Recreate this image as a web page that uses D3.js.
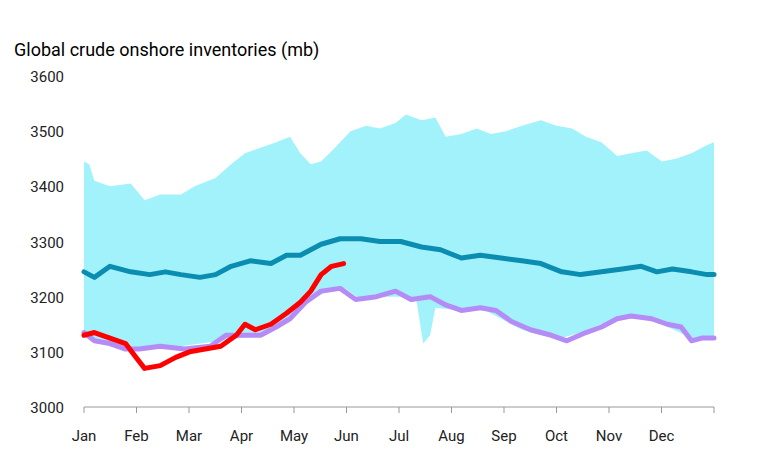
<!DOCTYPE html>
<html><head><meta charset="utf-8">
<script src="https://cdn.jsdelivr.net/npm/d3@7"></script>
<style>body{margin:0;background:#fff;font-family:Roboto,"Noto Sans",sans-serif}</style>
</head><body><svg id="c" width="767" height="452"></svg>
<script>
// months and ticks
var months = ["Jan","Feb","Mar","Apr","May","Jun","Jul","Aug","Sep","Oct","Nov","Dec"];
var yTicks = [3000,3100,3200,3300,3400,3500,3600];

// range band (day of year, value)
var upperDays = [0,3,6,15,27,35,44,56,64,76,85,93,102,111,119,125,131,137,145,154,163,171,180,186,195,203,209,218,227,235,244,253,264,273,282,290,299,308,316,325,334,342,351,360,364];
var upperVals = [3445,3440,3410,3400,3405,3375,3385,3385,3400,3415,3440,3460,3470,3480,3490,3460,3440,3445,3470,3500,3510,3505,3515,3530,3520,3525,3490,3495,3505,3495,3500,3510,3520,3510,3505,3490,3480,3455,3460,3465,3445,3450,3460,3475,3480];
var lowerDays = [0,15,32,56,79,102,119,131,143,151,160,171,183,192,196,200,203,218,229,241,253,264,276,287,299,311,322,334,351,364];
var lowerVals = [3130,3110,3105,3110,3120,3130,3160,3200,3210,3215,3195,3200,3200,3195,3115,3130,3180,3175,3180,3160,3140,3130,3125,3135,3150,3160,3160,3150,3125,3125];

// 5-year average
var avgDays = [0,6,15,27,38,47,56,67,76,85,96,108,117,125,137,148,160,171,183,195,206,218,229,241,253,264,276,287,299,311,322,331,340,351,360,364];
var avgVals = [3245,3235,3255,3245,3240,3245,3240,3235,3240,3255,3265,3260,3275,3275,3295,3305,3305,3300,3300,3290,3285,3270,3275,3270,3265,3260,3245,3240,3245,3250,3255,3245,3250,3245,3240,3240];

// previous year
var prevDays = [0,6,15,24,32,44,58,73,82,90,102,111,119,128,137,148,157,169,180,189,200,209,218,229,238,247,258,270,279,290,299,308,316,328,337,345,351,357,364];
var prevVals = [3135,3120,3115,3105,3105,3110,3105,3110,3130,3130,3130,3145,3160,3190,3210,3215,3195,3200,3210,3195,3200,3185,3175,3180,3175,3155,3140,3130,3120,3135,3145,3160,3165,3160,3150,3145,3120,3125,3125];

// current year
var curDays = [0,6,15,24,30,35,44,53,61,70,79,88,93,99,108,117,125,131,137,143,150];
var curVals = [3130,3135,3125,3115,3090,3070,3075,3090,3100,3105,3110,3130,3150,3140,3150,3170,3190,3210,3240,3255,3260];

var svg = d3.select("#c");
var x = d3.scaleLinear().domain([0,364]).range([84,714]);
var y = d3.scaleLinear().domain([3000,3600]).range([407,76]);

svg.append("text").attr("x",14).attr("y",56).attr("font-size",18).attr("fill","#000").text("Global crude onshore inventories (mb)");

svg.selectAll(".yl").data(yTicks).enter().append("text")
  .attr("x",64).attr("y",d=>y(d)+6).attr("text-anchor","end")
  .attr("font-size",15).attr("fill","#222").text(d=>d);

// band
var band = upperDays.map((d,i)=>[d,upperVals[i]]);
var low = lowerDays.map((d,i)=>[d,lowerVals[i]]).reverse();
svg.append("path").datum(band.concat(low))
  .attr("d",d3.line().x(d=>x(d[0])).y(d=>y(d[1])))
  .attr("fill","#a2f2fb");

function drawLine(days, vals, color){
  svg.append("path").datum(days.map((d,i)=>[d,vals[i]]))
    .attr("d",d3.line().x(d=>x(d[0])).y(d=>y(d[1])))
    .attr("fill","none").attr("stroke",color).attr("stroke-width",5)
    .attr("stroke-linejoin","round").attr("stroke-linecap","round");
}
drawLine(prevDays, prevVals, "#b58cf5");
drawLine(avgDays, avgVals, "#0a8db0");
drawLine(curDays, curVals, "#ff0000");

// x axis
svg.append("line").attr("x1",84).attr("x2",714).attr("y1",407).attr("y2",407).attr("stroke","#999");
var mx = d3.scaleLinear().domain([0,12]).range([84,714]);
svg.selectAll(".tk").data(d3.range(13)).enter().append("line")
  .attr("x1",d=>mx(d)).attr("x2",d=>mx(d)).attr("y1",407).attr("y2",413).attr("stroke","#999");
svg.selectAll(".ml").data(months).enter().append("text")
  .attr("x",(d,i)=>mx(i)).attr("y",441).attr("text-anchor","middle")
  .attr("font-size",15).attr("fill","#222").text(d=>d);
</script></body></html>
